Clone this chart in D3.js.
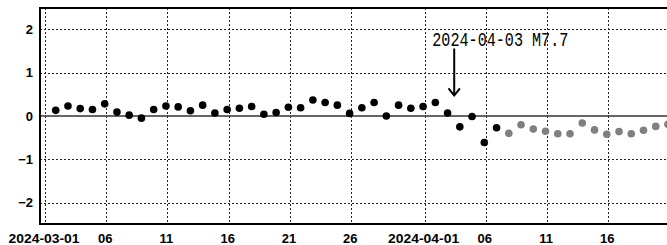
<!DOCTYPE html>
<html><head><meta charset="utf-8">
<script src="https://cdn.jsdelivr.net/npm/d3@7"></script>
<style>
html,body{margin:0;padding:0;background:#fff;overflow:hidden}
svg{display:block}
</style></head>
<body>
<svg id="chart" width="667" height="245"></svg>
<script>
// ---- data ----
const startDate = "2024-03-01";
const confirmedValues = [0.13,0.23,0.17,0.15,0.28,0.09,0.02,-0.05,0.15,0.23,0.21,0.12,0.25,0.07,0.15,0.18,0.22,0.04,0.08,0.20,0.19,0.37,0.31,0.25,0.06,0.19,0.31,0.00,0.25,0.18,0.22,0.31,0.07,-0.25,-0.01,-0.61,-0.27];
const provisionalValues = [-0.40,-0.20,-0.30,-0.35,-0.41,-0.41,-0.16,-0.32,-0.42,-0.36,-0.41,-0.33,-0.24,-0.19];
const yTicks = [-2,-1,0,1,2];
const eventDate = "2024-04-03";
const eventLabel = "2024-04-03 M7.7";

// ---- setup ----
const svg = d3.select("#chart");
const parse = d3.utcParse("%Y-%m-%d");
const d0 = parse(startDate);
const x = d3.scaleUtc().domain([d0, d3.utcDay.offset(d0, 46)]).range([45, 608.3]);
const y = d3.scaleLinear().domain([-2.5, 2.5]).range([224.5, 7.5]);
const plotL = 40, plotR = 667, plotT = 8, plotB = 224;

const allVals = confirmedValues.concat(provisionalValues);
const points = allVals.map((v, i) => ({
  t: d3.utcHour.offset(d3.utcDay.offset(d0, i), 21),
  v, prov: i >= confirmedValues.length
}));

// x tick dates: 1,6,11,16,21,26 of each month
const xTicks = [];
for (let m = 2; m <= 3; m++) {
  [1,6,11,16,21,26].forEach(d => {
    const dt = new Date(Date.UTC(2024, m, d));
    if (x(dt) <= plotR) xTicks.push(dt);
  });
}

// grid
const grid = svg.append("g").attr("stroke", "#222").attr("stroke-width", 1).attr("stroke-dasharray", "2,2");
xTicks.forEach(t => {
  grid.append("line").attr("x1", Math.round(x(t)) + 0.5).attr("x2", Math.round(x(t)) + 0.5)
    .attr("y1", plotT).attr("y2", plotB);
});
yTicks.filter(v => v !== 0).forEach(v => {
  grid.append("line").attr("x1", plotL).attr("x2", plotR)
    .attr("y1", Math.round(y(v)) + 0.5).attr("y2", Math.round(y(v)) + 0.5);
});
// zero line
svg.append("line").attr("x1", plotL).attr("x2", plotR).attr("y1", y(0)).attr("y2", y(0))
  .attr("stroke", "#333").attr("stroke-width", 1.5);

// frame
svg.append("path").attr("d", `M${plotR},${plotT}H${plotL}V${plotB}H${plotR}`)
  .attr("fill", "none").attr("stroke", "#000").attr("stroke-width", 2);

// points
svg.append("g").selectAll("circle").data(points).join("circle")
  .attr("cx", d => x(d.t)).attr("cy", d => y(d.v)).attr("r", 3.8)
  .attr("fill", d => d.prov ? "#808080" : "#000");

// y labels
svg.append("g").selectAll("text").data(yTicks).join("text")
  .attr("x", 33).attr("y", d => y(d)).attr("dy", "0.35em")
  .attr("text-anchor", "end")
  .attr("font-family", "Liberation Sans, Arial, sans-serif").attr("font-weight", "bold").attr("font-size", 13)
  .text(d => d < 0 ? "\u2212" + Math.abs(d) : d);

// x labels
const fmtFull = d3.utcFormat("%Y-%m-%d"), fmtDay = d3.utcFormat("%d");
svg.append("g").selectAll("text").data(xTicks).join("text")
  .attr("x", d => x(d) - 1).attr("y", 242.5)
  .attr("text-anchor", "middle")
  .attr("font-family", "Liberation Sans, Arial, sans-serif").attr("font-weight", "bold").attr("font-size", 13)
  .each(function(d) {
    const full = d.getUTCDate() === 1;
    const s = d3.select(this).text(full ? fmtFull(d) : fmtDay(d));
    if (full) s.attr("textLength", 71).attr("lengthAdjust", "spacingAndGlyphs");
  });

// annotation
const ev = parse(eventDate);
const ax = x(d3.utcHour.offset(ev, 10));
svg.append("text").attr("x", 432.3).attr("y", 46)
  .attr("font-family", "Liberation Mono, DejaVu Sans Mono, monospace").attr("font-size", 20)
  .attr("textLength", 136).attr("lengthAdjust", "spacingAndGlyphs")
  .text(eventLabel);
svg.append("line").attr("x1", ax).attr("x2", ax).attr("y1", 48.5).attr("y2", 95)
  .attr("stroke", "#000").attr("stroke-width", 2);
svg.append("path").attr("d", `M${ax-5.7},88.3L${ax},95.5L${ax+5.7},88.3`)
  .attr("fill", "none").attr("stroke", "#000").attr("stroke-width", 2);
</script>
</body></html>
